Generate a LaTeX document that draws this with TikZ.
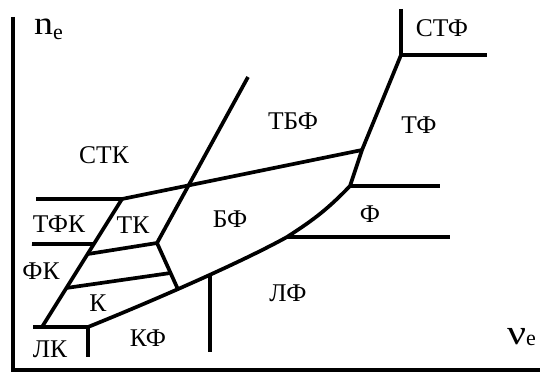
\documentclass[tikz,border=0pt]{standalone}
\usepackage{fontspec}
\setmainfont{Liberation Serif}
\usetikzlibrary{calc}
\begin{document}
\begin{tikzpicture}[x=1pt,y=-1pt,
  axis/.style={line width=4.5pt, line join=miter},
  border/.style={line width=3.7pt, line join=round},
  region/.style={inner sep=0pt, anchor=base, font=\fontsize{25.5}{25.5}\selectfont},
  axlabel/.style={inner sep=0pt, anchor=base west},
]
\useasboundingbox (0,0) rectangle (545,374);

% axes
\coordinate (yend) at (13,17);
\coordinate (origin) at (13,370);
\coordinate (xend) at (540,370);
\draw[axis] (yend) -- (origin) -- (xend);

\node[axlabel] (nlab) at (34,35)
  {\fontsize{33}{33}\selectfont\scalebox{1.15}[1]{n}\raisebox{-5pt}{\fontsize{22}{22}\selectfont e}};
\node[axlabel] (nulab) at (507,344)
  {\fontsize{35}{35}\selectfont\scalebox{1.2}[1]{ν}\raisebox{-1pt}{\fontsize{22}{22}\selectfont e}};

% vertices of the boundaries
\coordinate (stkL) at (36,199);
\coordinate (stkV) at (122,199);
\coordinate (tbfV) at (362,150);
\coordinate (tfkL) at (32,244);
\coordinate (slB) at (42,327);
\coordinate (lkL) at (33,327);
\coordinate (lkV) at (88,327);
\coordinate (lkB) at (88,357);
\coordinate (tkV) at (157,243);
\coordinate (crossT) at (248,77);
\coordinate (stfV) at (401,55);
\coordinate (stfT) at (401,9);
\coordinate (stfR) at (487,55);
\coordinate (tfV) at (350,186);
\coordinate (fR) at (440,186);
\coordinate (bfV) at (287,237);
\coordinate (lfR) at (450,237);
\coordinate (lfB) at (210,352);

% boundaries
\draw[border] (stfT) -- (stfV) -- (stfR);
\draw[border] (stfV) -- (tbfV) -- (tfV)
  .. controls (325,212) and (310,222) .. (bfV)
  .. controls (240,263) and (150,302) .. (lkV)
  coordinate[pos=0.42] (lfV) coordinate[pos=0.57] (kfV);
\draw[border] (stkL) -- (stkV) -- (tbfV);
\draw[border] (slB) -- (stkV);
\draw[border] (tfkL) -- ($(slB)!0.648!(stkV)$);
\draw[border] (lkL) -- (lkV) -- (lkB);
\draw[border] (tfV) -- (fR);
\draw[border] (bfV) -- (lfR);
\draw[border] (lfV) -- (lfV |- lfB);
\draw[border] ($(slB)!0.570!(stkV)$) -- (tkV) -- (crossT);
\draw[border] (tkV) -- (kfV);
\draw[border] ($(slB)!0.305!(stkV)$) -- ($(tkV)!0.65!(kfV)$);

% region names
\node[region] (stk) at (104,164) {СТК};
\node[region] (tfk) at (59,232) {ТФК};
\node[region] (tk) at (133,233) {ТК};
\node[region] (fk) at (41,279) {ФК};
\node[region] (k) at (98,311) {К};
\node[region] (lk) at (50,357) {ЛК};
\node[region] (kf) at (148,346) {КФ};
\node[region] (tbf) at (293,130) {ТБФ};
\node[region] (tf) at (419,134) {ТФ};
\node[region] (stf) at (442,37) {СТФ};
\node[region] (bf) at (230,227) {БФ};
\node[region] (f) at (370,222) {Ф};
\node[region] (lf) at (288,301) {ЛФ};
\end{tikzpicture}
\end{document}
